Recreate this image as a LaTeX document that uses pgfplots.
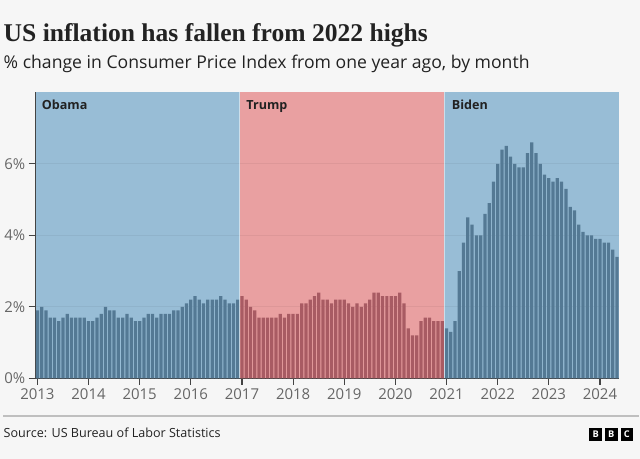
\documentclass[border=0pt]{standalone}
\usepackage{fontspec}
\setmainfont{Open Sans}
\newfontfamily\titlefont{Liberation Serif}
\usepackage{pgfplots}
\pgfplotsset{compat=1.18}
\definecolor{bgc}{HTML}{F6F6F6}
\definecolor{obg}{HTML}{98BDD6}
\definecolor{tbg}{HTML}{E9A0A1}
\definecolor{bbar}{HTML}{547994}
\definecolor{rbar}{HTML}{A85B63}
\definecolor{axisc}{HTML}{444444}
\definecolor{tickc}{HTML}{666666}
\definecolor{txt}{HTML}{222222}
\pagecolor{bgc}
\begin{document}
\begin{tikzpicture}
\path (0,0) rectangle (480pt,346.5pt);
\node[anchor=base west, inner sep=0pt, text=txt] at (0pt,315.5pt) {\titlefont\bfseries\fontsize{19.3}{22}\selectfont US inflation has fallen from 2022 highs};
\node[anchor=base west, inner sep=0pt, text=txt] at (0pt,294.5pt) {\fontsize{13.3}{16}\selectfont \% change in Consumer Price Index from one year ago, by month};
\begin{axis}[
  at={(24pt,60.75pt)}, anchor=south west,
  scale only axis, width=441pt, height=216pt,
  xmin=-0.5, xmax=136.5, ymin=0, ymax=8,
  axis x line*=bottom, axis y line*=left,
  axis line style={draw=axisc, line width=0.9pt, -},
  xtick={0,12,...,132}, xticklabels={2013,2014,2015,2016,2017,2018,2019,2020,2021,2022,2023,2024},
  ytick={0,2,4,6}, yticklabel={\pgfmathprintnumber{\tick}\%},
  /pgf/number format/assume math mode=true,
  tick style={draw=axisc, line width=0.9pt},
  major tick length=5pt,
  tick align=outside,
  ymajorgrids, grid style={black, opacity=0.05, line width=0.75pt},
  ticklabel style={font=\fontsize{11.3}{13}\selectfont, text=tickc},
  xticklabel style={yshift=1pt},
  yticklabel style={xshift=1pt},
  set layers,
  clip=false,
]
\begin{pgfonlayer}{axis background}
\fill[obg] (axis cs:-0.5,0) rectangle (axis cs:47.5,8);
\fill[tbg] (axis cs:47.5,0) rectangle (axis cs:95.5,8);
\fill[obg] (axis cs:95.5,0) rectangle (axis cs:136.5,8);
\end{pgfonlayer}
\addplot[ybar, bar width=2.45pt, fill=bbar, draw=none] coordinates {
(0,1.9)(1,2.0)(2,1.9)(3,1.7)(4,1.7)(5,1.6)(6,1.7)(7,1.8)(8,1.7)(9,1.7)(10,1.7)(11,1.7)
(12,1.6)(13,1.6)(14,1.7)(15,1.8)(16,2.0)(17,1.9)(18,1.9)(19,1.7)(20,1.7)(21,1.8)(22,1.7)(23,1.6)
(24,1.6)(25,1.7)(26,1.8)(27,1.8)(28,1.7)(29,1.8)(30,1.8)(31,1.8)(32,1.9)(33,1.9)(34,2.0)(35,2.1)
(36,2.2)(37,2.3)(38,2.2)(39,2.1)(40,2.2)(41,2.2)(42,2.2)(43,2.3)(44,2.2)(45,2.1)(46,2.1)(47,2.2)};
\addplot[ybar, bar width=2.45pt, fill=rbar, draw=none] coordinates {
(48,2.3)(49,2.2)(50,2.0)(51,1.9)(52,1.7)(53,1.7)(54,1.7)(55,1.7)(56,1.7)(57,1.8)(58,1.7)(59,1.8)
(60,1.8)(61,1.8)(62,2.1)(63,2.1)(64,2.2)(65,2.3)(66,2.4)(67,2.2)(68,2.2)(69,2.1)(70,2.2)(71,2.2)
(72,2.2)(73,2.1)(74,2.0)(75,2.1)(76,2.0)(77,2.1)(78,2.2)(79,2.4)(80,2.4)(81,2.3)(82,2.3)(83,2.3)
(84,2.3)(85,2.4)(86,2.1)(87,1.4)(88,1.2)(89,1.2)(90,1.6)(91,1.7)(92,1.7)(93,1.6)(94,1.6)(95,1.6)};
\addplot[ybar, bar width=2.45pt, fill=bbar, draw=none] coordinates {
(96,1.4)(97,1.3)(98,1.6)(99,3.0)(100,3.8)(101,4.5)(102,4.3)(103,4.0)(104,4.0)(105,4.6)(106,4.9)(107,5.5)
(108,6.0)(109,6.4)(110,6.5)(111,6.2)(112,6.0)(113,5.9)(114,5.9)(115,6.3)(116,6.6)(117,6.3)(118,6.0)(119,5.7)
(120,5.6)(121,5.5)(122,5.6)(123,5.5)(124,5.3)(125,4.8)(126,4.7)(127,4.3)(128,4.1)(129,4.0)(130,4.0)(131,3.9)
(132,3.9)(133,3.8)(134,3.8)(135,3.6)(136,3.4)};
\draw[white, opacity=0.5, line width=0.75pt] (axis cs:47.5,0) -- (axis cs:47.5,8);
\draw[white, opacity=0.5, line width=0.75pt] (axis cs:95.5,0) -- (axis cs:95.5,8);
\node[anchor=base west, inner sep=0pt, text=txt, font=\bfseries\fontsize{9.5}{11}\selectfont] at (axis cs:1.0,7.52) {Obama};
\node[anchor=base west, inner sep=0pt, text=txt, font=\bfseries\fontsize{9.5}{11}\selectfont] at (axis cs:49.0,7.52) {Trump};
\node[anchor=base west, inner sep=0pt, text=txt, font=\bfseries\fontsize{9.5}{11}\selectfont] at (axis cs:97.2,7.52) {Biden};
\end{axis}
\draw[black!25, line width=1.5pt] (0,32.5pt) -- (480pt,32.5pt);
\node[anchor=base west, inner sep=0pt, text=txt] at (0pt,15.75pt) {\fontsize{9.5}{11}\selectfont Source: US Bureau of Labor Statistics};
\foreach \i/\l in {0/B,1/B,2/C} {
  \fill[black] (442.5pt+\i*11.8pt,13.5pt) rectangle ++(9.5pt,9.5pt);
  \node[text=white, inner sep=0pt, font=\bfseries\fontsize{7}{8}\selectfont] at (442.5pt+\i*11.8pt+4.75pt,18.25pt) {\l};
}
\end{tikzpicture}
\end{document}
